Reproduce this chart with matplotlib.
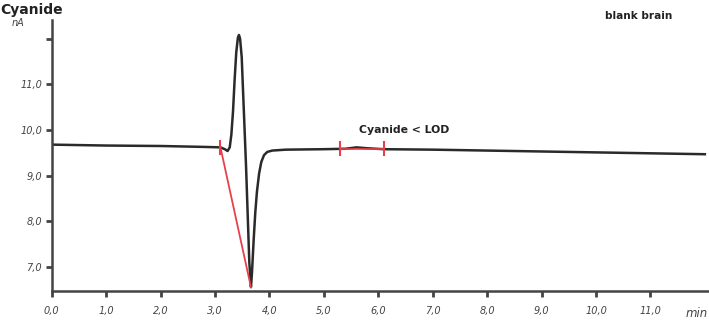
import matplotlib.pyplot as plt

# chromatogram trace (min, nA)
time = [0.0, 1.0, 2.0, 2.8, 3.1, 3.18, 3.23, 3.27, 3.30, 3.33, 3.36, 3.39, 3.42, 3.44,
        3.46, 3.49, 3.51, 3.53, 3.55, 3.57, 3.59, 3.61, 3.63, 3.66, 3.68, 3.71, 3.74,
        3.77, 3.81, 3.85, 3.90, 3.96, 4.05, 4.3, 5.0, 5.4, 5.6, 5.8, 6.1, 7.0, 8.0,
        9.0, 10.0, 11.0, 12.0]
current = [9.68, 9.66, 9.65, 9.63, 9.62, 9.58, 9.54, 9.62, 9.9, 10.4, 11.1, 11.7, 12.02, 12.08,
           12.0, 11.6, 11.0, 10.4, 9.8, 9.2, 8.5, 7.8, 7.1, 6.56, 6.9, 7.6, 8.2,
           8.65, 9.05, 9.3, 9.45, 9.52, 9.55, 9.57, 9.58, 9.59, 9.62, 9.6, 9.58, 9.57, 9.55,
           9.53, 9.51, 9.49, 9.47]

# integration markers
base_start = (3.1, 9.62)
base_end = (3.66, 6.56)
lod_marks = [5.3, 6.1]
lod_level = 9.59

x_ticks = list(range(0, 12))
x_labels = ['%d,0' % v for v in x_ticks]
y_ticks = [7, 8, 9, 10, 11, 12]
y_labels = ['7,0', '8,0', '9,0', '10,0', '11,0', '']

fig = plt.figure(figsize=(7.09, 3.21), dpi=100)
ax = fig.add_axes([0.073, 0.094, 0.925, 0.844])

ax.plot(time, current, color='#2a2a2a', lw=1.8, solid_joinstyle='round')
ax.plot([base_start[0], base_end[0]], [base_start[1], base_end[1]], color='#e8404a', lw=1.3)
ax.plot(lod_marks, [lod_level, lod_level], color='#e8404a', lw=1.2)
for xm in [base_start[0]] + lod_marks:
    yc = base_start[1] if xm == base_start[0] else lod_level
    ax.plot([xm, xm], [yc - 0.14, yc + 0.14], color='#e8404a', lw=1.5)

ax.set_xlim(0, 12.05)
ax.set_ylim(6.48, 12.41)
ax.set_xticks(x_ticks)
ax.set_xticklabels(x_labels, fontsize=7, style='italic', color='#444444')
ax.set_yticks(y_ticks)
ax.set_yticklabels(y_labels, fontsize=7, style='italic', color='#444444')
ax.tick_params(axis='x', length=4, width=2, color='#444444', pad=7)
ax.tick_params(axis='y', length=4, width=2, color='#444444', pad=3)

for s in ['top', 'right']:
    ax.spines[s].set_visible(False)
for s in ['left', 'bottom']:
    ax.spines[s].set_color('#444444')
    ax.spines[s].set_linewidth(1.8)

fig.text(0.001, 0.99, 'Cyanide', fontsize=10, fontweight='bold', va='top', ha='left', color='#222222')
fig.text(0.016, 0.945, 'nA', fontsize=7, style='italic', va='top', ha='left', color='#444444')
fig.text(0.853, 0.965, 'blank brain', fontsize=7.6, fontweight='bold', va='top', ha='left', color='#222222')
fig.text(0.983, 0.022, 'min', fontsize=8.5, style='italic', va='center', ha='center', color='#444444')
ax.text(6.47, 10.0, 'Cyanide < LOD', fontsize=7.8, fontweight='bold', ha='center', va='center', color='#222222')

fig.savefig('out.png', dpi=100)
